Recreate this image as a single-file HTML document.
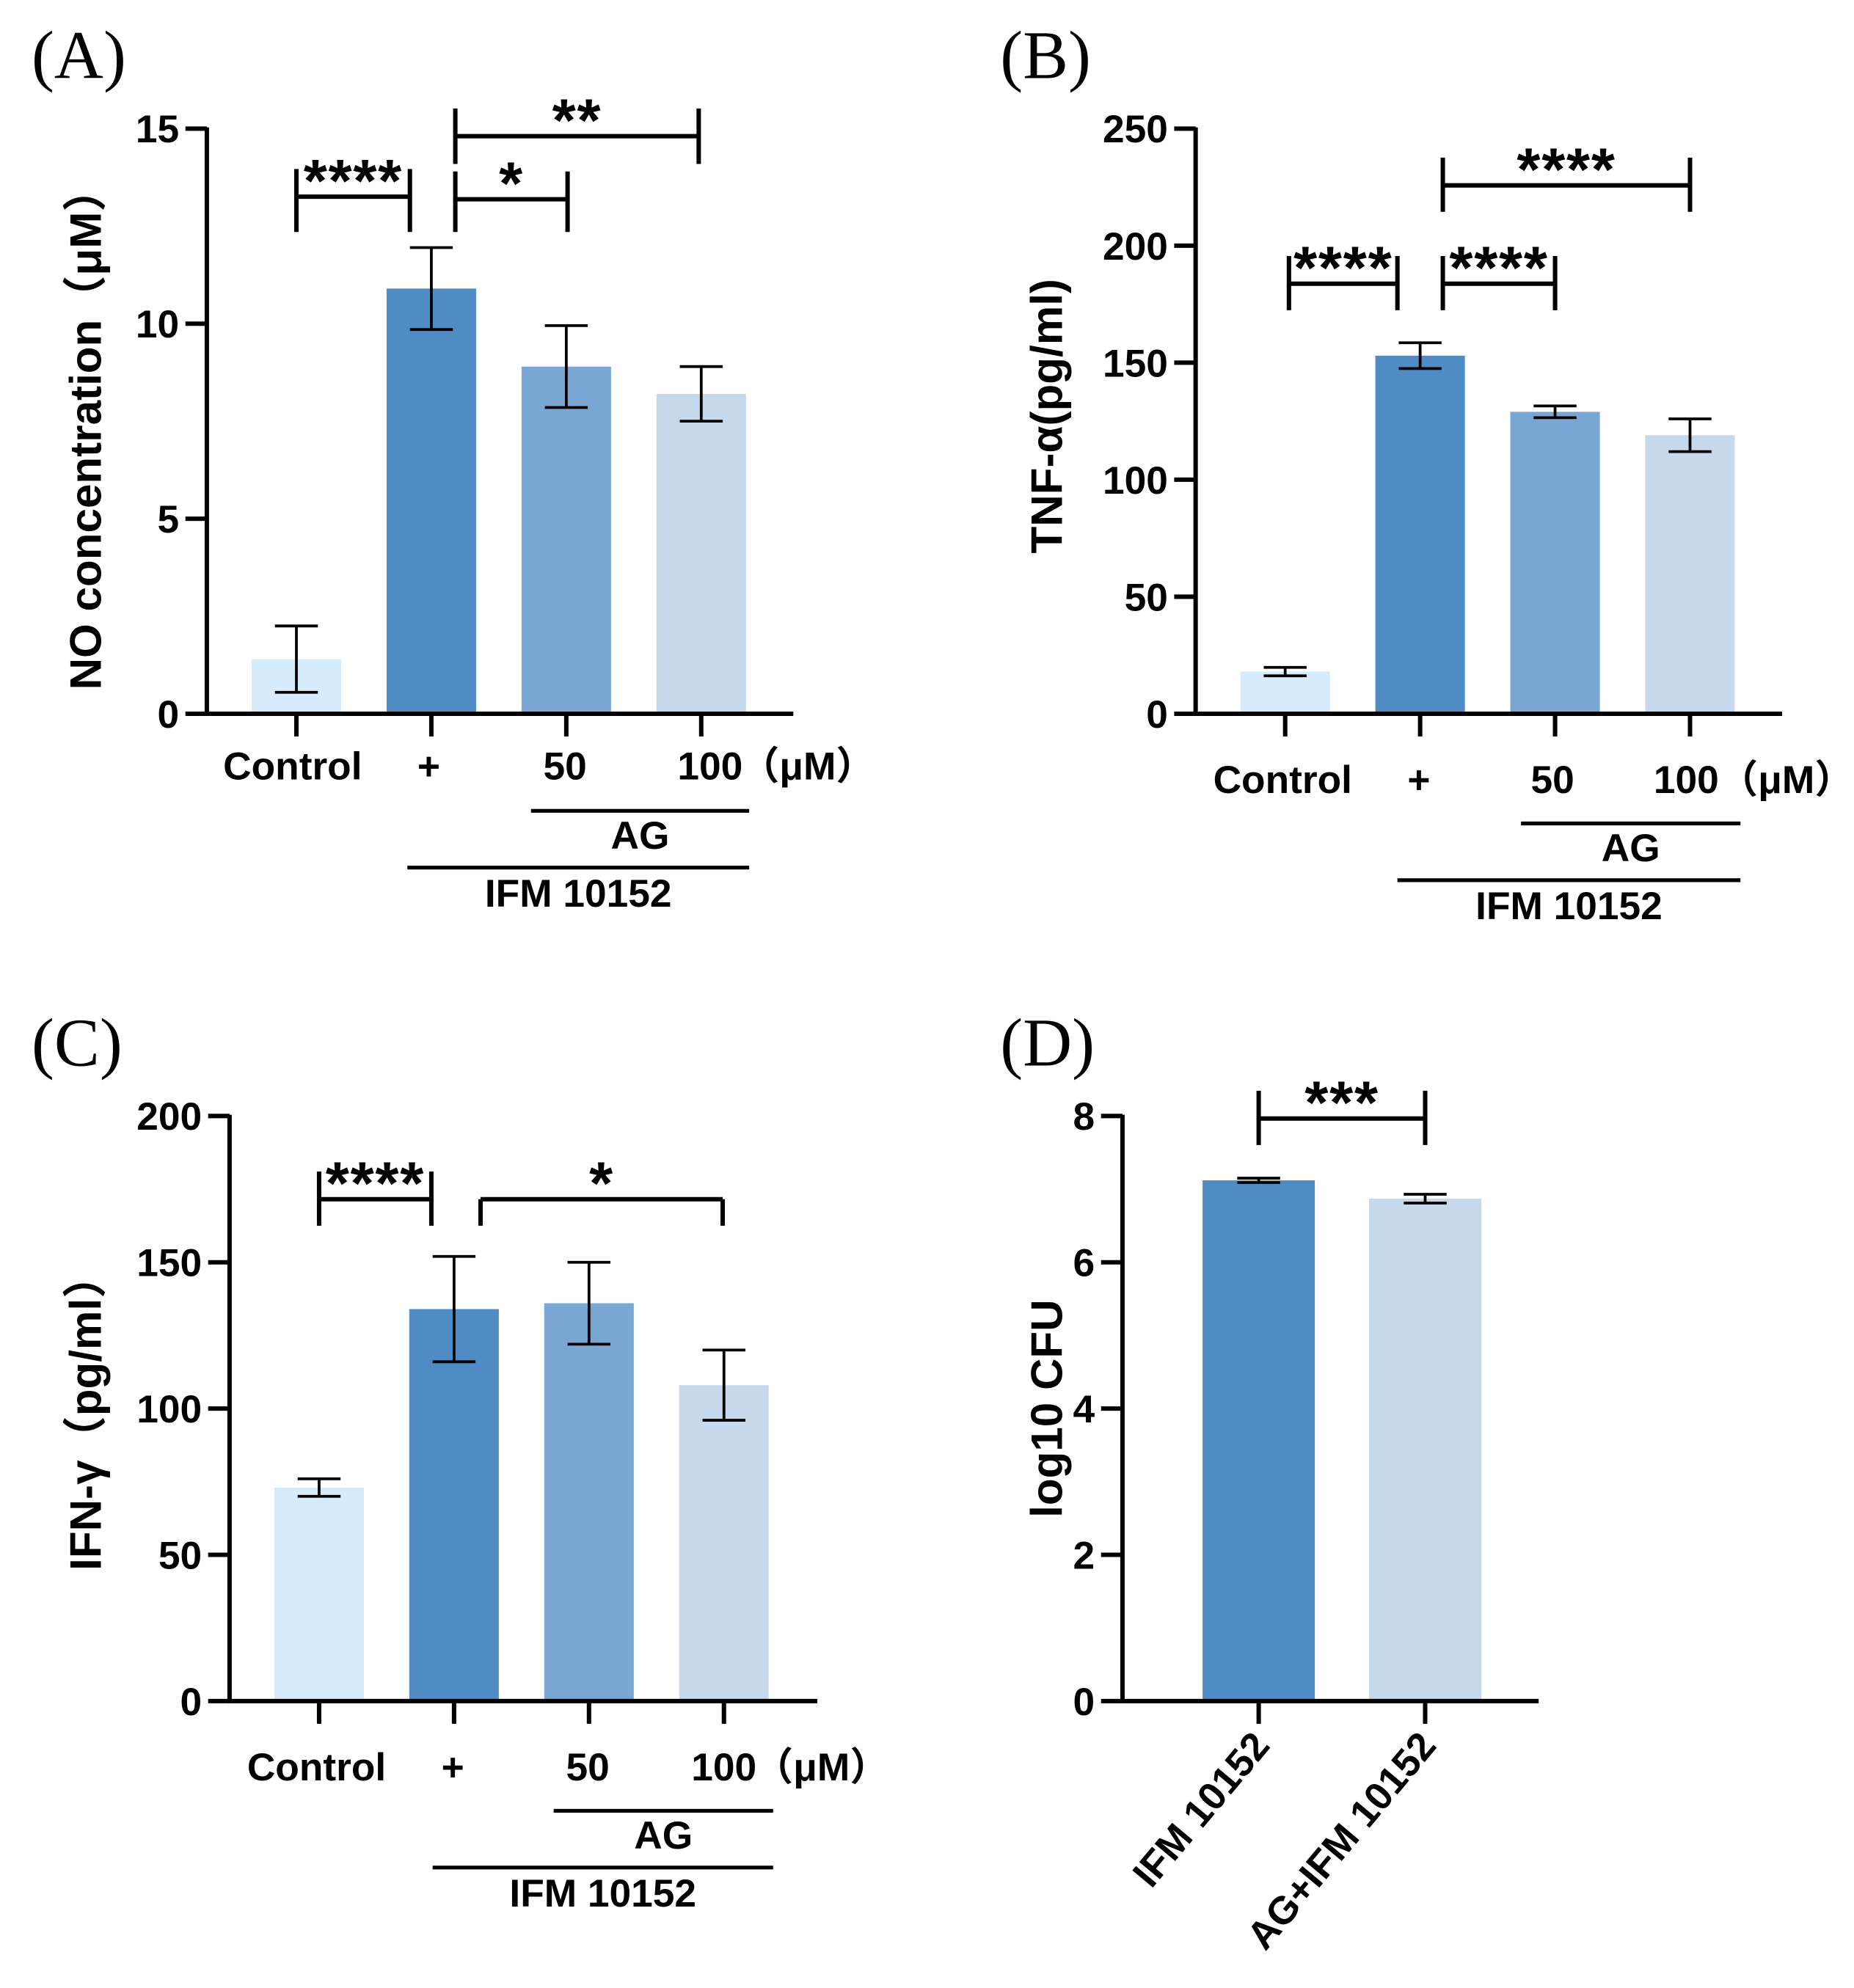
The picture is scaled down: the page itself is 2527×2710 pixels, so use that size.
<!DOCTYPE html>
<html><head><meta charset="utf-8"><style>
html,body{margin:0;padding:0;background:#fff;}
svg{display:block;}
text{font-family:"Liberation Sans","Noto Sans CJK SC",sans-serif;font-weight:bold;fill:#000;}
.pl{font-family:"Liberation Serif",serif;font-weight:normal;font-size:54px;}
</style></head><body>
<svg id="fig" width="2527" height="2710" viewBox="0 0 1470 1576.5" xmlns="http://www.w3.org/2000/svg"></svg>
<script>
const NS="http://www.w3.org/2000/svg";
const svg=document.getElementById('fig');
const colors=["#d6ecfa","#4f8bc4","#7aa6d3","#c6d8ec"];
// Panel A data
const aCats=["Control","+","50","100"];
const aVals=[1.4,10.9,8.9,8.2];
const aErrs=[0.85,1.05,1.05,0.7];
const aTicks=[0,5,10,15];
// Panel B data
const bCats=["Control","+","50","100"];
const bVals=[18,153,129,119];
const bErrs=[1.8,5.5,2.5,7];
const bTicks=[0,50,100,150,200,250];
// Panel C data
const cCats=["Control","+","50","100"];
const cVals=[73,134,136,108];
const cErrs=[3,18,14,12];
const cTicks=[0,50,100,150,200];
// Panel D data
const dCats=["IFM 10152","AG+IFM 10152"];
const dVals=[7.12,6.87];
const dErrs=[0.03,0.06];
const dTicks=[0,2,4,6,8];

function el(tag,attrs,parent,txt){const e=document.createElementNS(NS,tag);for(const k in attrs)e.setAttribute(k,attrs[k]);if(txt!==undefined)e.textContent=txt;(parent||svg).appendChild(e);return e;}
function line(x1,y1,x2,y2,w,p){return el('line',{x1,y1,x2,y2,stroke:'#000','stroke-width':w||3},p);}

function panel(cfg){
  const g=el('g',{});
  
  
  const y=v=>cfg.y0-(v-0)/(cfg.max)*(cfg.y0-cfg.y1);
  cfg.vals.forEach((v,i)=>{
    const cx=cfg.xs[i];
    const r=el('rect',{x:cx-cfg.bw/2,y:y(v),width:cfg.bw,height:cfg.y0-y(v),fill:cfg.colors[i]},g);
    
    
    const e=cfg.errs[i];
    const eg=el('g',{},g);
    
    
    line(cx,y(v+e),cx,y(v-e),2.2,eg);
    line(cx-17,y(v+e),cx+17,y(v+e),2.2,eg);
    line(cx-17,y(v-e),cx+17,y(v-e),2.2,eg);
  });
  const ax=el('g',{},g);
  
  
  line(cfg.ax,cfg.y1-1,cfg.ax,cfg.y0+1.5,3.5,ax);
  line(cfg.ax-1.5,cfg.y0,cfg.xEnd,cfg.y0,3.5,ax);
  cfg.ticks.forEach(t=>{
    line(cfg.ax-17,y(t),cfg.ax,y(t),3.5,ax);
    const tl=el('text',{x:cfg.ax-22,y:y(t)+11,'text-anchor':'end','font-size':31},ax,String(t));
    
    
  });
  cfg.xs.forEach(x=>line(x,cfg.y0,x,cfg.y0+18,3.5,ax));
  const yt=el('text',{x:0,y:0,'text-anchor':'middle','font-size':cfg.ytSize||35,transform:`translate(${cfg.ytx},${cfg.yty}) rotate(-90)`},g,cfg.ytitle);
  
  
  const pl=el('text',{x:cfg.plx,y:cfg.ply,class:'pl'},g,cfg.label);
  
  
  (cfg.sig||[]).forEach(s=>{
    const sg=el('g',{},g);
    
    
    line(s[0],s[2],s[1],s[2],3.5,sg);
    line(s[0],s[2]-(s[5]||0),s[0],s[3],3.5,sg);
    line(s[1],s[2]-(s[5]||0),s[1],s[3],3.5,sg);
    el('text',{x:(s[0]+s[1])/2,y:s[2]+4,'text-anchor':'middle','font-size':48,'letter-spacing':1},sg,s[4]);
  });
  return {g,y};
}
function grpLabels(g,xs,ly,cats,unitX,agL,agR,agY,ifL,ifR,ifY){
  const lg=el('g',{},g);
  
  
  cats.forEach((c,i)=>el('text',{x:xs[i],y:ly,'text-anchor':'middle','font-size':31},lg,c));
  el('text',{x:unitX,y:ly,'text-anchor':'start','font-size':31},lg,'（μM）');
  line(agL,agY,agR,agY,3,lg);
  el('text',{x:(agL+agR)/2,y:agY+30,'text-anchor':'middle','font-size':31},lg,'AG');
  line(ifL,ifY,ifR,ifY,3,lg);
  el('text',{x:(ifL+ifR)/2,y:ifY+31,'text-anchor':'middle','font-size':31},lg,'IFM 10152');
}
const A=panel({name:'panel-a',label:'(A)',plx:25,ply:62,vals:aVals,errs:aErrs,ticks:aTicks,max:15,y0:566,y1:102,ax:164,xEnd:629,xs:[235,342,449,556],bw:71,colors,
 ytitle:'NO concentration（μM）',ytx:80,yty:340,
 sig:[[235,325,156,184,'****',22],[361,450,158,184,'*',22],[361,554,108,130,'**',22]]});
grpLabels(A.g,[232,340,448,563],618,aCats,587,421,594,643,323,594,688);
const B=panel({name:'panel-b',label:'(B)',plx:793,ply:62,vals:bVals,errs:bErrs,ticks:bTicks,max:250,y0:566,y1:102,ax:948,xEnd:1413,xs:[1019,1126,1233,1340],bw:71,colors,
 ytitle:'TNF-α(pg/ml)',ytx:842,yty:330,
 sig:[[1022,1108,225,246,'****',22],[1144,1233,225,246,'****',22],[1144,1340,147,168,'****',22]]});
grpLabels(B.g,[1017,1125,1231,1337],629,bCats,1363,1206,1380,653,1108,1380,698);
const C=panel({name:'panel-c',label:'(C)',plx:25,ply:845,vals:cVals,errs:cErrs,ticks:cTicks,max:200,y0:1349,y1:885,ax:182,xEnd:648,xs:[253,360,467,574],bw:71,colors,
 ytitle:'IFN-γ（pg/ml）',ytx:80,yty:1120,
 sig:[[253,342,951,972,'****',22],[381,573,951,972,'*',0]]});
grpLabels(C.g,[251,359,466,574],1412,cCats,598,439,613,1436,343,613,1481);
const D=panel({name:'panel-d',label:'(D)',plx:793,ply:845,vals:dVals,errs:dErrs,ticks:dTicks,max:8,y0:1349,y1:885,ax:890,xEnd:1220,xs:[998,1130],bw:89,colors:[colors[1],colors[3]],
 ytitle:'log10 CFU',ytx:842,yty:1117,
 sig:[[998,1130,887,908,'***',22]]});
const dl=el('g',{},D.g);


dCats.forEach((c,i)=>el('text',{x:0,y:0,'text-anchor':'end','font-size':31,transform:`translate(${[1008,1140][i]},${1385}) rotate(-50)`},dl,c));
</script>
</body></html>
